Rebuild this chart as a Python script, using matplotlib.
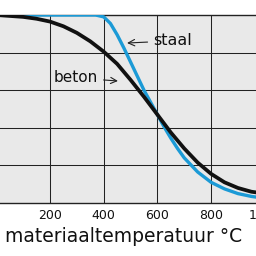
import matplotlib
matplotlib.use("Agg")
import matplotlib.pyplot as plt

# temperature (°C) and relative strength
temp_beton = [0, 100, 150, 200, 250, 300, 350, 400, 450, 500, 550, 600, 650, 700, 750, 800, 850, 900, 950, 1000]
beton = [1.0, 0.99, 0.98, 0.965, 0.94, 0.905, 0.86, 0.805, 0.74, 0.655, 0.565, 0.47, 0.375, 0.29, 0.215,
         0.155, 0.11, 0.08, 0.06, 0.05]

temp_staal = [0, 100, 200, 300, 370, 400, 425, 450, 475, 500, 525, 550, 575, 600, 625, 650, 675, 700,
              750, 800, 850, 900, 950, 1000]
staal = [1.0, 1.0, 1.0, 1.0, 1.0, 0.99, 0.955, 0.895, 0.825, 0.75, 0.675, 0.60, 0.535, 0.47, 0.405,
         0.345, 0.29, 0.24, 0.165, 0.11, 0.075, 0.05, 0.035, 0.025]

xticks = [200, 400, 600, 800, 1000]
yticks = [0.2, 0.4, 0.6, 0.8]
xlabel = "materiaaltemperatuur °C"

fig = plt.figure(figsize=(2.56, 2.56), dpi=100)
fig.patch.set_facecolor("white")
ax = fig.add_axes([-3.7 / 256, 1 - 203 / 256, 268.5 / 256, 188 / 256])
ax.set_facecolor("#e9e9e9")
ax.set_xlim(0, 1000)
ax.set_ylim(0, 1)

ax.set_xticks(xticks)
ax.set_yticks(yticks)
ax.set_yticklabels([])
ax.grid(True, color="#222222", linewidth=0.75)
ax.set_axisbelow(True)
ax.tick_params(length=0, pad=4, labelsize=9, colors="#111111")
for s in ax.spines.values():
    s.set_color("#222222")
    s.set_linewidth(1.0)

ax.plot(temp_staal, staal, color="#1b9ad6", lw=2.4, solid_joinstyle="round", solid_capstyle="round", zorder=3)
ax.plot(temp_beton, beton, color="#111111", lw=2.7, solid_joinstyle="round", solid_capstyle="round", zorder=4)

ax.annotate("beton", xy=(453, 0.649), xytext=(379, 0.665), ha="right", va="center",
            fontsize=11, color="#111111",
            arrowprops=dict(arrowstyle="->", color="#222222", lw=0.8, shrinkA=2, shrinkB=0))
ax.annotate("staal", xy=(487, 0.851), xytext=(584, 0.862), ha="left", va="center",
            fontsize=11.5, color="#111111",
            arrowprops=dict(arrowstyle="->", color="#222222", lw=0.8, shrinkA=2, shrinkB=0))

ax.set_xlabel(xlabel, fontsize=13.5, color="#111111")
ax.xaxis.set_label_coords(0.474, -0.176)
ax.xaxis.label.set_verticalalignment("center")

fig.savefig("out.png", dpi=100)
